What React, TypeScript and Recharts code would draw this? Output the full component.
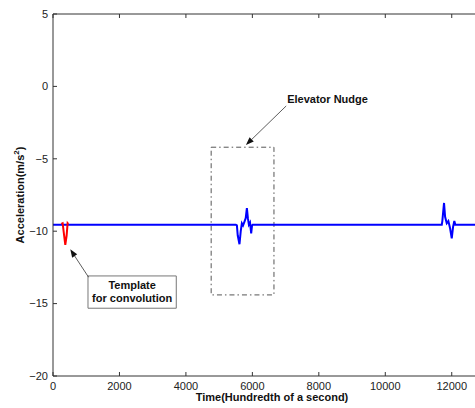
import React from 'react';
import {
  ComposedChart, Line, XAxis, YAxis, ReferenceArea, ReferenceLine,
} from 'recharts';

// readings (time in 1/100 s, acceleration in m/s^2)
const signalTime = [
  0, 5500, 5534, 5560, 5612, 5650, 5684, 5720, 5760, 5800, 5835, 5865, 5895, 5930, 5964, 5990, 6010,
  11700, 11717, 11768, 11800, 11850, 11898, 11950, 12000, 12040, 12078, 12108, 12700,
];
const signalAccel = [
  -9.55, -9.55, -9.6, -10.3, -10.9, -10.0, -9.45, -9.6, -9.35, -9.1, -8.4, -9.1, -9.55, -9.4, -10.15, -9.6, -9.55,
  -9.55, -9.3, -8.05, -9.0, -9.45, -9.3, -9.8, -10.5, -9.7, -9.3, -9.55, -9.55,
];
const templateTime = [250, 290, 330, 370, 410, 440, 460];
const templateAccel = [-9.5, -9.45, -10.2, -10.95, -10.3, -9.45, -9.5];

const timeTicks = [0, 2000, 4000, 6000, 8000, 10000, 12000];
const accelTicks = [-20, -15, -10, -5, 0, 5];

const signal = signalTime.map((t, i) => ({ t, a: signalAccel[i] }));
const template = templateTime.map((t, i) => ({ t, a: templateAccel[i] }));

const FONT = '"Liberation Sans", Arial, Helvetica, sans-serif';
const AXIS = '#333';
const minus = (v: number) => (v < 0 ? '\u2212' + Math.abs(v) : String(v));

const YTick = (props: any) => {
  const { x, y, payload } = props;
  return (
    <g>
      <line x1={x} y1={y} x2={x + 4} y2={y} stroke={AXIS} strokeWidth={1} />
      <text x={x - 5} y={y} dy="0.35em" textAnchor="end" fontSize={11} fill="#222" fontFamily={FONT}>
        {minus(payload.value)}
      </text>
    </g>
  );
};

const XTick = (props: any) => {
  const { x, y, payload } = props;
  return (
    <g>
      <line x1={x} y1={y} x2={x} y2={y - 4} stroke={AXIS} strokeWidth={1} />
      <text x={x} y={y + 13.5} textAnchor="middle" fontSize={11} fill="#222" fontFamily={FONT}>
        {payload.value}
      </text>
    </g>
  );
};

const TopTick = (props: any) => {
  const { x, y } = props;
  return <line x1={x} y1={y} x2={x} y2={y + 4} stroke={AXIS} strokeWidth={1} />;
};

const Arrow = (props: any) => {
  const { x1, y1, x2, y2, text } = props;
  const ang = Math.atan2(y2 - y1, x2 - x1);
  const len = 8;
  const w = 3;
  const bx = x2 - len * Math.cos(ang);
  const by = y2 - len * Math.sin(ang);
  const px = -Math.sin(ang) * w;
  const py = Math.cos(ang) * w;
  return (
    <g>
      <line x1={x1} y1={y1} x2={bx} y2={by} stroke="#333" strokeWidth={0.8} />
      <polygon points={`${x2},${y2} ${bx + px},${by + py} ${bx - px},${by - py}`} fill="#111" />
      {text && (
        <text x={x1 + 1} y={y1 - 3} fontSize={11} fontWeight="bold" fill="#111" fontFamily={FONT}>
          {text}
        </text>
      )}
    </g>
  );
};

export default function App() {
  return (
    <div style={{ position: 'absolute', left: 0, top: 0, fontFamily: FONT, background: '#fff' }}>
      <ComposedChart width={475} height={408} margin={{ top: 13, right: 0, bottom: 0, left: 0 }}>
        <XAxis
          dataKey="t"
          type="number"
          domain={[0, 12700]}
          ticks={timeTicks}
          allowDataOverflow
          height={32}
          tickSize={0}
          tickMargin={0}
          tick={<XTick />}
          axisLine={{ stroke: AXIS }}
          label={{
            content: () => (
              <text x={272} y={401} textAnchor="middle" fontSize={11} fontWeight="bold" fill="#111" fontFamily={FONT}>
                Time(Hundredth of a second)
              </text>
            ),
          }}
        />
        <XAxis
          xAxisId="top"
          orientation="top"
          dataKey="t"
          type="number"
          domain={[0, 12700]}
          ticks={timeTicks}
          allowDataOverflow
          height={1}
          tickSize={0}
          tickMargin={0}
          tick={<TopTick />}
          axisLine={{ stroke: AXIS }}
        />
        <YAxis
          type="number"
          domain={[-20, 5]}
          ticks={accelTicks}
          allowDataOverflow
          width={53}
          tickSize={0}
          tickMargin={0}
          tick={<YTick />}
          axisLine={{ stroke: AXIS }}
          label={{
            content: () => (
              <text
                x={24}
                y={195}
                transform="rotate(-90 24 195)"
                textAnchor="middle"
                fontSize={11}
                fontWeight="bold"
                fill="#111"
                fontFamily={FONT}
              >
                Acceleration(m/s
                <tspan fontSize={8} dy={-5}>2</tspan>
                <tspan dy={5}>)</tspan>
              </text>
            ),
          }}
        />

        <ReferenceArea
          x1={4760}
          x2={6650}
          y1={-14.4}
          y2={-4.2}
          fill="none"
          fillOpacity={0}
          stroke="#555"
          strokeWidth={1}
          strokeDasharray="5 3 1.5 3"
        />
        <ReferenceArea
          x1={1053}
          x2={3710}
          y1={-15.32}
          y2={-13.09}
          fill="#fff"
          fillOpacity={1}
          stroke="#777"
          strokeWidth={1}
          label={{
            content: (p: any) => {
              const vb = p.viewBox;
              const cx = vb.x + vb.width / 2;
              return (
                <text x={cx} y={vb.y} textAnchor="middle" fontSize={11} fontWeight="bold" fill="#111" fontFamily={FONT}>
                  <tspan x={cx} dy={13}>Template</tspan>
                  <tspan x={cx} dy={13}>for convolution</tspan>
                </text>
              );
            },
          }}
        />

        <ReferenceLine
          segment={[{ x: 7018, y: -1.35 }, { x: 5806, y: -4.05 }]}
          shape={(p: any) => <Arrow {...p} text="Elevator Nudge" />}
        />
        <ReferenceLine
          segment={[{ x: 1071, y: -13.18 }, { x: 520, y: -11.25 }]}
          shape={(p: any) => <Arrow {...p} />}
        />

        <Line
          data={signal}
          dataKey="a"
          type="linear"
          stroke="#0000ff"
          strokeWidth={2}
          dot={false}
          activeDot={false}
          isAnimationActive={false}
        />
        <Line
          data={template}
          dataKey="a"
          type="linear"
          stroke="#ff0000"
          strokeWidth={2}
          dot={false}
          activeDot={false}
          isAnimationActive={false}
        />
      </ComposedChart>
    </div>
  );
}
